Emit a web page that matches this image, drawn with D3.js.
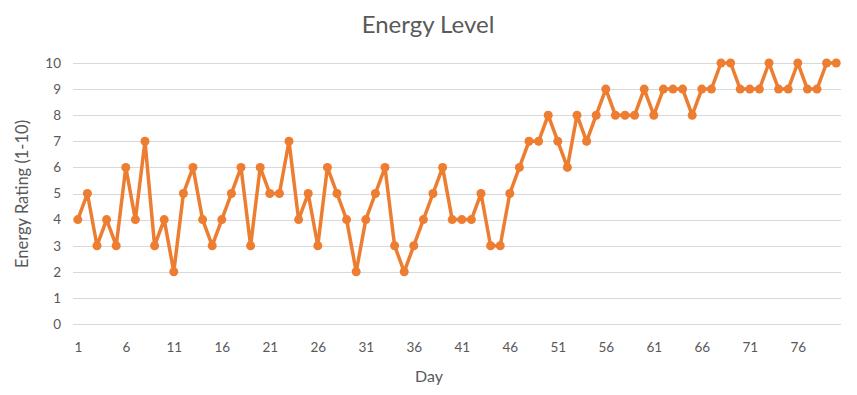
<!DOCTYPE html>
<html>
<head>
<meta charset="utf-8">
<script src="https://cdn.jsdelivr.net/npm/d3@7"></script>
<style>
  body { margin: 0; background: #fff; }
  #chart { width: 857px; height: 395px; }
  text { font-family: Lato, "Open Sans", sans-serif; fill: #595959; }
  .axis path, .axis line { display: none; }
  .grid line { stroke: #d9d9d9; stroke-width: 1; }
</style>
</head>
<body>
<div id="chart"></div>
<script>
/* DATA */
const days = d3.range(1, 81);
const energy = [
  4, 5, 3, 4, 3, 6, 4, 7, 3, 4,
  2, 5, 6, 4, 3, 4, 5, 6, 3, 6,
  5, 5, 7, 4, 5, 3, 6, 5, 4, 2,
  4, 5, 6, 3, 2, 3, 4, 5, 6, 4,
  4, 4, 5, 3, 3, 5, 6, 7, 7, 8,
  7, 6, 8, 7, 8, 9, 8, 8, 8, 9,
  8, 9, 9, 9, 8, 9, 9, 10, 10, 9,
  9, 9, 10, 9, 9, 10, 9, 9, 10, 10
];
const xTickLabels = [1, 6, 11, 16, 21, 26, 31, 36, 41, 46, 51, 56, 61, 66, 71, 76];
const yTicks = [0, 1, 2, 3, 4, 5, 6, 7, 8, 9, 10];

const data = days.map(function(d, i) { return {day: d, value: energy[i]}; });

/* SVG */
const width = 857;
const height = 395;
const margin = {top: 63, left: 73, right: 16, bottom: 71};

const svg = d3.select("#chart")
    .append("svg")
    .attr("width", width)
    .attr("height", height);

/* SCALES */
const xScale = d3.scalePoint()
    .domain(days)
    .range([margin.left, width - margin.right])
    .padding(0.5);

const yScale = d3.scaleLinear()
    .domain([0, 10])
    .range([height - margin.bottom, margin.top]);

/* GRIDLINES */
svg.append("g")
    .attr("class", "grid")
    .selectAll("line")
    .data(yTicks)
    .enter()
    .append("line")
    .attr("x1", margin.left)
    .attr("x2", width - margin.right)
    .attr("y1", function(d) { return Math.round(yScale(d)) + 0.5; })
    .attr("y2", function(d) { return Math.round(yScale(d)) + 0.5; });

/* AXES */
svg.append("g")
    .attr("class", "axis")
    .attr("transform", `translate(${margin.left - 6},0)`)
    .call(d3.axisLeft(yScale).tickValues(yTicks).tickSize(0).tickPadding(6))
    .selectAll("text")
    .style("font-size", "13.5px");

svg.append("g")
    .attr("class", "axis")
    .attr("transform", `translate(0,${height - margin.bottom + 12})`)
    .call(d3.axisBottom(xScale).tickValues(xTickLabels).tickSize(0).tickPadding(6))
    .selectAll("text")
    .style("font-size", "13.5px");

/* LINE */
const line = d3.line()
    .x(function(d) { return xScale(d.day); })
    .y(function(d) { return yScale(d.value); });

svg.append("path")
    .datum(data)
    .attr("fill", "none")
    .attr("stroke", "#ED7D31")
    .attr("stroke-width", 3.5)
    .attr("stroke-linejoin", "round")
    .attr("d", line);

svg.selectAll("circle")
    .data(data)
    .enter()
    .append("circle")
    .attr("cx", function(d) { return xScale(d.day); })
    .attr("cy", function(d) { return yScale(d.value); })
    .attr("r", 4.5)
    .attr("fill", "#ED7D31");

/* LABELS */
svg.append("text")
    .attr("x", 428)
    .attr("y", 33)
    .attr("text-anchor", "middle")
    .style("font-size", "24px")
    .text("Energy Level");

svg.append("text")
    .attr("x", 429)
    .attr("y", 382)
    .attr("text-anchor", "middle")
    .style("font-size", "16px")
    .text("Day");

svg.append("text")
    .attr("transform", "rotate(-90)")
    .attr("x", -194)
    .attr("y", 28)
    .attr("text-anchor", "middle")
    .style("font-size", "16.5px")
    .text("Energy Rating (1-10)");
</script>
</body>
</html>
